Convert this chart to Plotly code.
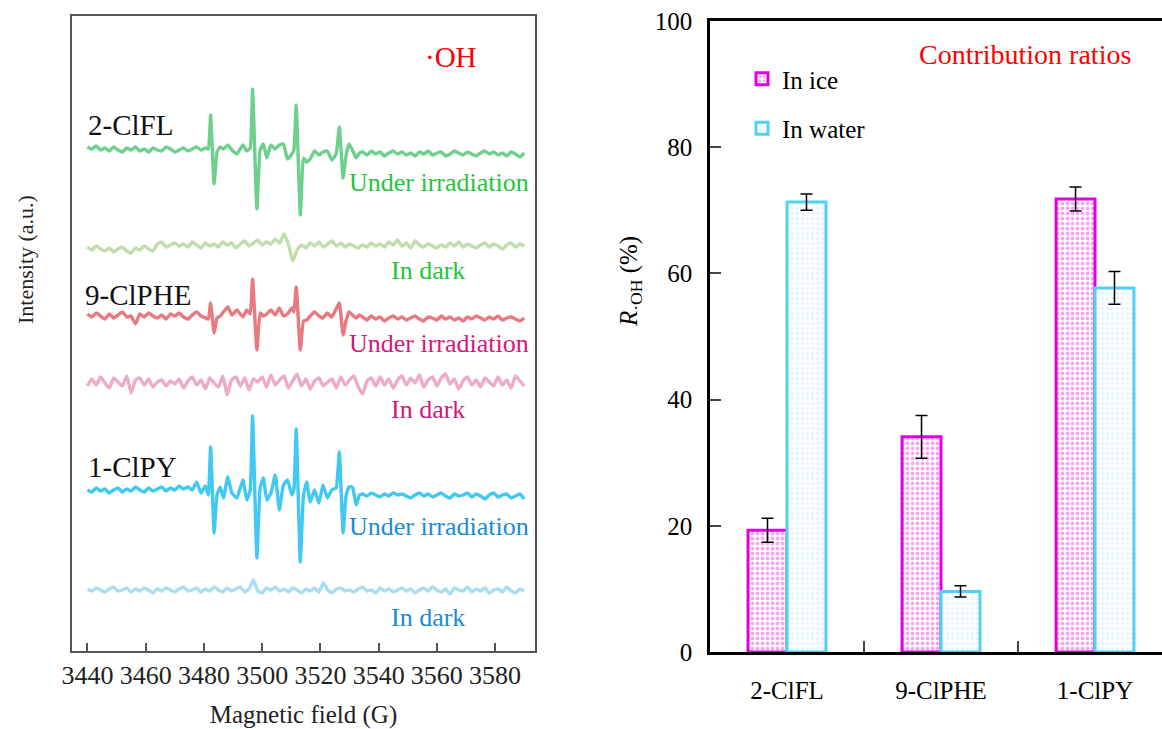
import numpy as np
import plotly.graph_objects as go

# ---------------- Left panel: EPR spectra (DMPO-·OH) ----------------
FIELD_NOISE_L = np.arange(3440, 3481, 1.5)        # 28 points
FIELD_SIGNAL = [3481.5, 3482.3, 3483.5, 3484.5, 3485.6, 3486.7, 3488.2, 3489.6, 3491.3,
                3493.4, 3494.7, 3495.9, 3496.7, 3498.2, 3499.3, 3500.4, 3501.6, 3503.0,
                3504.5, 3505.9, 3507.3, 3508.7, 3510.2, 3510.9, 3511.7, 3513.1, 3514.2,
                3515.3, 3516.5, 3518.0, 3519.5, 3520.9, 3522.4, 3523.9, 3525.4, 3526.5,
                3527.8, 3528.8, 3529.8, 3531.0, 3532.3, 3533.4]
FIELD_NOISE_R = np.arange(3534.5, 3590.1, 1.5)    # 38 points
FIELD_DARK = np.arange(3440, 3590.1, 1.5)         # 101 points

# 2-ClFL under irradiation
clfl_irr_left = [3, 1, 4, 0, 2, -1, 3, 0, -2, 2, 0, 3, -1, 1, -2, 2, 0, -1, 3, 1, -2, 0, 2, -1, 1, 3, 0, 2]
clfl_irr_sig = [1, 35, -34, -2, 3, 1, 5, 0, -4, 5, -1, 2, 61, -59, 0, 6, -8, 5, 1, 5, 6, -9, -4, 0,
                45, -65, -8, -12, -9, -1, -5, -2, -1, -10, -4, 23, -28, -6, 6, 0, -8, -3]
clfl_irr_right = [-2, -5, -1, -4, -2, -6, -3, -1, -4, -2, -5, -3, -6, -2, -4, -1, -5, -3, -2, -6,
                  -4, -1, -3, -5, -2, -4, -6, -3, -1, -4, -2, -5, -3, -6, -2, -4, -7, -3]
# 2-ClFL in dark
clfl_dark = [-1, -4, 0, -3, -5, -2, -6, -3, -1, -5, -7, -2, -4, 0, -3, -5, 2, 4, -1, 1,
             3, 0, 2, -1, 4, 1, -2, 3, 0, 2, -1, 4, 1, 3, -2, 2, 5, 0, 3, 6,
             1, 4, 2, 7, 3, 12, 2, -15, -4, 1, -2, 3, 0, 4, -1, 2, 5, 0, 3, -1,
             2, 0, -2, 1, -1, 3, 0, 2, -1, 4, 1, 6, 0, 3, -2, 5, 1, -1, 2, 0,
             -2, 1, -1, 3, 0, 4, -1, 2, 0, -2, 1, 3, -1, 2, 0, -3, 1, 3, -1, 2, 0]

# 9-ClPHE under irradiation
clphe_irr_left = [2, -1, 3, 0, -3, 2, -2, 1, 4, -1, 0, -8, 2, -1, 3, 0, -2, 1, -3, 2, 0, 3, -1, -3, 1, 4, 0, -2]
clphe_irr_sig = [-3, 13, -17, -2, 0, 4, 9, 1, 6, -1, 6, 2, 37, -34, 3, 0, 2, 6, 1, 8, 0, 2, 8, 4,
                 29, -34, -5, -4, 0, 4, 0, -2, 3, -1, 7, 13, -19, -5, 4, 1, -2, 1]
clphe_irr_right = [-1, -4, 0, -3, -1, -5, -2, 0, -3, -1, -4, -2, 0, -3, -5, -1, -2, -4, 0, -3,
                   -1, -4, -2, -5, -1, -3, 0, -2, -4, -1, -3, 0, -4, -2, -1, -3, -5, -2]
# 9-ClPHE in dark
clphe_dark = [-3, 4, -2, 6, 0, -5, 5, 1, -3, 7, -10, 3, 5, -2, 4, -4, 1, 3, -3, 2,
              -1, 4, -5, 2, 6, -2, 3, -6, 5, 0, -4, 7, -12, 3, 6, -3, 5, -7, 4, 1,
              6, -4, 8, -2, 3, 7, -5, 2, 9, -3, 4, -6, 2, 5, -3, 1, 4, -5, 6, -2,
              3, 7, -4, -11, 2, 5, -3, 6, -2, 4, -5, 3, 7, -2, 5, 0, 8, -4, 3, 6,
              -3, 5, 9, -1, 4, -6, 2, 6, -2, 3, -4, 5, 1, -3, 6, -2, 3, -5, 7, 2, -3]

# 1-ClPY under irradiation
clpy_irr_left = [0, -2, 2, -1, 1, -3, 0, 2, -2, 1, -1, 3, 0, -2, 2, -1, 1, 3, -1, 2, 0, 4, 1, 3, 0, 8, -3, 4]
clpy_irr_sig = [-5, 43, -43, -5, 3, -8, 13, -3, -8, 10, -10, 0, 74, -68, 2, 12, -10, -3, 15, -20, 5, 10, -5, 0,
                61, -72, -5, 8, -12, 0, -13, 5, -8, 0, 2, 38, -43, -6, 3, 3, -15, -5]
clpy_irr_right = [-4, -6, -3, -5, -7, -4, -6, -3, -5, -4, -6, -8, -5, -3, -6, -4, -7, -5, -3, -6,
                  -8, -4, -6, -5, -3, -7, -4, -6, -9, -5, -3, -7, -5, -4, -8, -6, -4, -9]
# 1-ClPY in dark
clpy_dark = [1, -1, 2, 0, -2, 1, 3, -1, 0, 2, -2, 1, -1, 2, 0, -3, 1, -1, 2, 0,
             -2, 1, 3, -1, 0, 2, -2, 1, -1, 3, 0, -2, 2, -1, 1, 3, -2, 1, 10, -1,
             -3, 2, 0, 3, -1, 1, -2, 2, 0, -3, 1, -1, 2, -2, 7, 0, -3, 1, 2, -1,
             0, -2, 1, 3, -1, 0, -3, 2, -1, 1, -2, 0, 2, -1, 1, -3, 0, 2, -1, 3,
             0, -2, 1, -4, 2, 0, -1, 3, -2, 1, -1, 2, -3, 0, 1, -2, 3, -1, -3, 1, -1]

# vertical stacking offsets of each spectrum (a.u.)
OFFSETS = {"clfl_irr": 501, "clfl_dark": 405, "clphe_irr": 335,
           "clphe_dark": 268, "clpy_irr": 161, "clpy_dark": 61}

# ---------------- Right panel: contribution ratios ----------------
compounds = ["2-ClFL", "9-ClPHE", "1-ClPY"]
ratio_ice = [19.3, 34.1, 71.8]
err_ice = [1.9, 3.4, 1.9]
ratio_water = [71.3, 9.6, 57.7]
err_water = [1.3, 0.9, 2.6]

W, H = 1162, 729
SERIF = "Liberation Serif"

fig = go.Figure()

LINE = dict(width=3.4, shape="spline", smoothing=0.4)

def irr_trace(left, sig, right, off, color):
    x = list(FIELD_NOISE_L) + FIELD_SIGNAL + list(FIELD_NOISE_R)
    y = [off + v for v in (left + sig + right)]
    return go.Scatter(x=x, y=y, mode="lines", line=dict(color=color, **LINE),
                      showlegend=False, xaxis="x", yaxis="y", hoverinfo="skip")

def dark_trace(vals, off, color):
    return go.Scatter(x=list(FIELD_DARK), y=[off + v for v in vals], mode="lines",
                      line=dict(color=color, **LINE), showlegend=False,
                      xaxis="x", yaxis="y", hoverinfo="skip")

fig.add_trace(irr_trace(clfl_irr_left, clfl_irr_sig, clfl_irr_right, OFFSETS["clfl_irr"], "#6fd08e"))
fig.add_trace(dark_trace(clfl_dark, OFFSETS["clfl_dark"], "#c0ddab"))
fig.add_trace(irr_trace(clphe_irr_left, clphe_irr_sig, clphe_irr_right, OFFSETS["clphe_irr"], "#e8797f"))
fig.add_trace(dark_trace(clphe_dark, OFFSETS["clphe_dark"], "#ecabc6"))
fig.add_trace(irr_trace(clpy_irr_left, clpy_irr_sig, clpy_irr_right, OFFSETS["clpy_irr"], "#42c9f3"))
fig.add_trace(dark_trace(clpy_dark, OFFSETS["clpy_dark"], "#a9ddf1"))

# bars
fig.add_trace(go.Bar(
    x=compounds, y=ratio_ice, name="In ice", xaxis="x2", yaxis="y2",
    legendgroup="ice",
    marker=dict(color="white", line=dict(color="#e100e6", width=3),
                pattern=dict(shape=".", fgcolor="#e650e8", bgcolor="white", size=5, solidity=0.45)),
    error_y=dict(type="data", array=err_ice, color="black", thickness=1.5, width=6),
))
fig.add_trace(go.Bar(
    x=compounds, y=ratio_water, name="In water", xaxis="x2", yaxis="y2",
    legendgroup="water",
    marker=dict(color="white", line=dict(color="#4fd1f6", width=3),
                pattern=dict(shape=".", fgcolor="#c8ecf7", bgcolor="white", size=5, solidity=0.4)),
    error_y=dict(type="data", array=err_water, color="black", thickness=1.5, width=6),
))

def px(x):
    return x / W

def py(y):
    return 1 - y / H

ann = []
def text(s, x, y, color, size, xanchor="left", yanchor="middle", angle=0):
    ann.append(dict(text=s, x=px(x), y=py(y), xref="paper", yref="paper", showarrow=False,
                    xanchor=xanchor, yanchor=yanchor, textangle=angle,
                    font=dict(family=SERIF, size=size, color=color)))

text("2-ClFL", 86, 125, "#111111", 29)
text("9-ClPHE", 83, 295, "#111111", 29)
text("1-ClPY", 86, 467, "#111111", 29)
text("·OH", 451, 57, "#ff0000", 29, "center")
text("Under irradiation", 347, 182, "#1fc63a", 26)
text("In dark", 389, 270, "#1fc63a", 26)
text("Under irradiation", 347, 343, "#d6167c", 26)
text("In dark", 389, 409, "#d6167c", 26)
text("Under irradiation", 347, 526, "#1a8bd6", 26)
text("In dark", 389, 617, "#1a8bd6", 26)
text("Contribution ratios", 1025, 55, "#ff0000", 28, "center")
# axis titles placed where the reference has them
text("Intensity (a.u.)", 25, 260, "#222222", 22, "center", "middle", -90)
text("<i>R</i><sub>·OH</sub> (%)", 630, 282, "black", 25, "center", "middle", -90)

fig.update_layout(
    width=W, height=H,
    margin=dict(l=0, r=0, t=0, b=0, autoexpand=False),
    paper_bgcolor="white", plot_bgcolor="white",
    font=dict(family=SERIF, color="black"),
    barmode="group", bargap=0.494, bargroupgap=0,
    annotations=ann,
    legend=dict(x=px(742), y=py(56), xanchor="left", yanchor="top",
                font=dict(family=SERIF, size=25), bgcolor="rgba(0,0,0,0)",
                tracegroupgap=14, traceorder="grouped"),
    xaxis=dict(domain=[px(72), px(535)], range=[3434.7, 3593.7], showgrid=False, zeroline=False,
               automargin=False,
               showline=True, mirror=True, linecolor="#555555", linewidth=2,
               ticks="inside", ticklen=8, tickwidth=1.5, tickcolor="#555555",
               tickmode="array", tickvals=[3440, 3460, 3480, 3500, 3520, 3540, 3560, 3580],
               tickfont=dict(family=SERIF, size=26, color="#222222"),
               title=dict(text="Magnetic field (G)", font=dict(family=SERIF, size=25, color="#222222"),
                          standoff=18)),
    yaxis=dict(domain=[1 - 651 / H, 1 - 16 / H], range=[0, 635], showgrid=False, zeroline=False,
               automargin=False,
               showline=True, mirror=True, linecolor="#555555", linewidth=2,
               showticklabels=False, ticks=""),
    xaxis2=dict(domain=[px(710), 1.0], range=[-0.5, 2.435], type="category",
                categoryorder="array", categoryarray=compounds, automargin=False,
                showgrid=False, zeroline=False, showline=True, mirror=True,
                linecolor="black", linewidth=2.5, ticks="inside", ticklen=11, tickwidth=2,
                tickson="boundaries", anchor="y2", ticklabelstandoff=14,
                tickfont=dict(family=SERIF, size=25, color="black")),
    yaxis2=dict(domain=[1 - 652 / H, 1 - 21 / H], range=[0, 100], dtick=20, showgrid=False,
                zeroline=False, showline=True, linecolor="black", linewidth=2.5, automargin=False,
                ticks="inside", ticklen=11, tickwidth=2, anchor="x2", ticklabelstandoff=10,
                tickfont=dict(family=SERIF, size=25, color="black")),
)

fig.write_html("out.html")
